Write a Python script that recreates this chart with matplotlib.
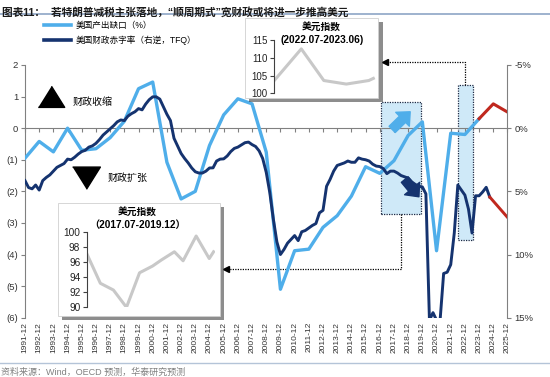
import numpy as np
import matplotlib.pyplot as plt
import matplotlib.patheffects as pe
from matplotlib.patches import Rectangle
from matplotlib.lines import Line2D

plt.rcParams['font.family'] = ['Liberation Sans', 'Noto Sans CJK SC', 'DejaVu Sans']

# US output gap (%), annual, Dec of each year
gap_years = list(range(1991, 2024))
gap_values = [-0.95, -0.42, -0.75, 0.0, -0.70, -0.65, -0.30, 0.22, 1.25, 1.46,
              -1.08, -2.24, -2.00, -0.55, 0.42, 0.93, 0.77, -0.76, -5.10, -3.88,
              -3.83, -3.14, -2.77, -2.15, -1.22, -1.43, -1.03, -0.23, 0.20, -3.88,
              -0.16, -0.20, 0.30]
gap_fc_years = [2023, 2024, 2025]
gap_fc_values = [0.30, 0.77, 0.51]

# US fiscal deficit ratio (%, TFQ), quarterly from 1991-12
deficit_values = [4.15, 4.7, 4.8, 4.5, 4.9, 4.15, 3.9, 3.7,
                  3.4, 3.1, 2.95, 2.8, 2.45, 2.5, 2.3, 2.05,
                  1.85, 1.75, 1.5, 1.4, 1.2, 0.9, 0.55, 0.3,
                  0.05, -0.2, -0.5, -0.65, -0.6, -0.95, -1.15, -1.3,
                  -1.55, -1.45, -1.9, -2.25, -2.48, -2.48, -2.3, -1.7,
                  -1.1, -0.6, 0.8, 1.4, 2.0, 2.4, 2.75, 3.15,
                  3.45, 3.55, 3.55, 3.4, 3.15, 3.14, 2.6, 2.45,
                  2.43, 2.2, 1.85, 1.6, 1.5, 1.33, 1.15, 1.1,
                  1.3, 1.45, 1.8, 2.4, 3.5, 5.1, 7.2, 9.0,
                  10.0, 9.6, 9.1, 8.8, 8.5, 8.9, 8.2, 8.1,
                  7.9, 7.7, 7.55, 6.7, 6.5, 4.6, 4.05, 3.4,
                  2.95, 2.85, 2.75, 2.6, 2.7, 2.7, 2.35, 2.45,
                  2.5, 2.6, 2.85, 3.0, 3.04, 3.2, 3.6, 3.4,
                  3.4, 3.55, 3.75, 3.85, 3.95, 4.25, 4.45, 4.6,
                  4.65, 5.2, 15.2, 14.6, 15.2, 15.2, 11.5, 11.4,
                  10.8, 8.3, 4.5, 4.9, 5.3, 6.4, 8.3, 5.35,
                  5.35, 5.05, 4.68, 5.45]
deficit_fc_dates = [(2024, 9), (2025, 12)]
deficit_fc_values = [5.45, 7.06]

tick_years = list(range(1991, 2026))

# DXY insets
dxy1_months = [0, 3, 6, 9, 12, 15, 17, 20, 22, 25, 28, 29]
dxy1_values = [97.0, 93.2, 92.3, 90.0, 94.6, 95.5, 96.3, 97.4, 96.2, 99.5, 96.5, 97.4]
dxy2_months = [0, 3, 5.5, 8, 10.5, 11]
dxy2_values = [103.6, 112.5, 103.6, 102.6, 103.6, 104.2]


def ym(year, month=12):
    return year + (month - 1) / 12


light = '#4FAEEA'
navy = '#15336F'
red = '#C0281E'
grey = '#808080'

fig = plt.figure(figsize=(5.5, 3.77), dpi=100)
ax = fig.add_axes([0.04545, 0.1573, 0.87727, 0.6703])
ax2 = ax.twinx()

# output gap (left axis)
ax.plot([ym(y) for y in gap_years], gap_values, color=light, lw=2.4, zorder=3)
ax.plot([ym(y) for y in gap_fc_years], gap_fc_values, color=red, lw=2.2, zorder=3)

# fiscal deficit (right axis, inverted)
dq = ym(1991) + 0.25 * np.arange(len(deficit_values))
ax2.plot(dq, deficit_values, color=navy, lw=2.1, zorder=3)
ax2.plot([ym(y, m) for y, m in deficit_fc_dates], deficit_fc_values, color=red, lw=2.1, zorder=3)

ax.set_xlim(ym(1991), ym(2025))
ax.set_ylim(-6, 2)
ax2.set_ylim(15, -5)

# axes styling
ax.set_yticks(range(-6, 3))
ax.set_yticklabels([f'({-v})' if v < 0 else str(v) for v in range(-6, 3)])
ax2.set_yticks([-5, 0, 5, 10, 15])
ax2.set_yticklabels([f'{v}%' for v in [-5, 0, 5, 10, 15]])
for a in (ax, ax2):
    for s in a.spines.values():
        s.set_color(grey)
        s.set_linewidth(0.8)
    a.tick_params(axis='y', length=3, color=grey, labelsize=6.8, labelcolor='#333333', pad=2)
ax.spines['top'].set_visible(False)
ax.spines['right'].set_visible(False)
ax2.spines[['top', 'bottom', 'left']].set_visible(False)
ax.spines['bottom'].set_position(('data', 0))

xt = [ym(y) for y in tick_years]
ax.set_xticks(xt)
ax.tick_params(axis='x', length=3, color=grey, labelbottom=False)
sec = ax.secondary_xaxis('bottom')
sec.set_xticks(xt, labels=[f'{y}-12' for y in tick_years])
sec.tick_params(length=0, labelsize=6, rotation=90, labelcolor='#333333', pad=3)
sec.spines['bottom'].set_visible(False)

# highlighted periods
box_fc = '#CFE9F8'
ax.add_patch(Rectangle((2017.0, -2.72), 2.82, 3.54, fc=box_fc, ec='#1F2A44', lw=0.9,
                       ls=(0, (1, 1)), zorder=1))
ax.add_patch(Rectangle((2022.41, -3.54), 1.05, 4.91, fc=box_fc, ec='#1F2A44', lw=0.9,
                       ls=(0, (1, 1)), zorder=1))

# dotted connectors to the insets
ax.plot([2018.41, 2018.41, 2006.2], [-2.72, -4.46, -4.46], color='black', lw=0.9,
        ls=(0, (1, 1)), clip_on=False, zorder=1)
ax.plot([2006.05], [-4.46], marker='<', ms=5, color='black', clip_on=False, zorder=1)
ax.plot([2022.95, 2022.95, 2017.5], [1.37, 2.1, 2.1], color='black', lw=0.9,
        ls=(0, (1, 1)), clip_on=False, zorder=1)
ax.plot([2017.3], [2.1], marker='<', ms=5, color='black', clip_on=False, zorder=1)

# direction arrows in the first box (drawn above both lines)
arr = 'simple,head_length=0.55,head_width=1.0,tail_width=0.45'
ax2.annotate('', xy=(2019.2, 0.58), xytext=(2017.65, -0.1),
             xycoords=ax.transData, textcoords=ax.transData,
             arrowprops=dict(arrowstyle=arr, fc=light, ec=light, mutation_scale=14))
ax2.annotate('', xy=(2019.8, 5.6), xytext=(2018.55, 3.9),
             arrowprops=dict(arrowstyle=arr, fc=navy, ec=navy, mutation_scale=14))

# contraction / expansion markers
tri = [(-1, -0.75), (1, -0.75), (0, 0.85)]
ax.plot([0.0549], [0.872], marker=tri, ms=19, color='black', transform=ax.transAxes, clip_on=False)
ax.text(0.099, 0.853, '财政收缩', transform=ax.transAxes, fontsize=7.2, va='center',
        family=['Noto Sans CJK SC'])
tri_d = [(-1, 0.75), (1, 0.75), (0, -0.85)]
ax.plot([0.1254], [0.556], marker=tri_d, ms=20, color='black', transform=ax.transAxes, clip_on=False)
ax.text(0.172, 0.554, '财政扩张', transform=ax.transAxes, fontsize=7.2, va='center',
        family=['Noto Sans CJK SC'])

# legend
handles = [Line2D([], [], color=light, lw=2.6), Line2D([], [], color=navy, lw=2.6)]
fig.legend(handles, ['美国产出缺口（%）', '美国财政赤字率（右逆，TFQ）'], loc='upper left',
           bbox_to_anchor=(0.08, 0.945), frameon=False, fontsize=6.2, handlelength=3.1,
           handletextpad=0.6, labelspacing=0.7, borderpad=0, borderaxespad=0)


def inset(panel, box, months, values, ylim, yticks, sub, tsize, cxf):
    shadow = [pe.withSimplePatchShadow(offset=(3, -3), shadow_rgbFace='#303030', alpha=0.55)]
    fig.add_artist(Rectangle(panel[:2], panel[2], panel[3], transform=fig.transFigure,
                             fc='white', ec='#d0d0d0', lw=0.6, zorder=5, path_effects=shadow))
    ia = fig.add_axes(box, zorder=6)
    ia.patch.set_visible(False)
    ia.plot(months, values, color='#C8C8C8', lw=2.2)
    ia.set_ylim(*ylim)
    ia.set_yticks(yticks)
    ia.set_xlim(months[0], months[-1] + 0.3)
    ia.set_xticks([])
    for s in ('top', 'right', 'bottom'):
        ia.spines[s].set_visible(False)
    ia.spines['left'].set_color('#404040')
    ia.spines['left'].set_linewidth(0.8)
    ia.tick_params(axis='y', length=3, color='#404040', labelsize=tsize, labelcolor='#222222', pad=2)
    cx = panel[0] + panel[2] * cxf
    top = panel[1] + panel[3]
    fig.text(cx, top - 0.023, '美元指数', ha='center', va='center', fontsize=7,
             weight='bold', family=['Noto Sans CJK SC'], zorder=7)
    fig.text(cx, top - 0.057, sub, ha='center', va='center', fontsize=7.3, weight='bold', zorder=7)


inset([0.106, 0.1618, 0.294, 0.299], [0.1587, 0.1849, 0.232, 0.199],
      dxy1_months, dxy1_values, (90, 100), range(90, 101, 2), '（2017.07-2019.12）', 7.3, 0.49)
inset([0.4455, 0.7393, 0.2424, 0.2122], [0.4987, 0.7525, 0.185, 0.1414],
      dxy2_months, dxy2_values, (100, 115), range(100, 116, 5), '(2022.07-2023.06)', 7, 0.575)

# title, rules and source
fig.text(0.004, 0.983, '图表11：  若特朗普减税主张落地，“顺周期式”宽财政或将进一步推高美元',
         fontsize=7.7, weight='bold', va='top', color='#1a1a1a')
fig.add_artist(Line2D([0, 1], [0.962, 0.962], transform=fig.transFigure, color='#8EA6C6', lw=1.2))
fig.add_artist(Line2D([0, 1], [0.037, 0.037], transform=fig.transFigure, color='#B4C4D8', lw=1.0))
fig.text(0.002, 0.014, '资料来源：Wind，OECD 预测，华泰研究预测', fontsize=6.5, color='#808080',
         va='center')

fig.savefig('out.png', dpi=100)
